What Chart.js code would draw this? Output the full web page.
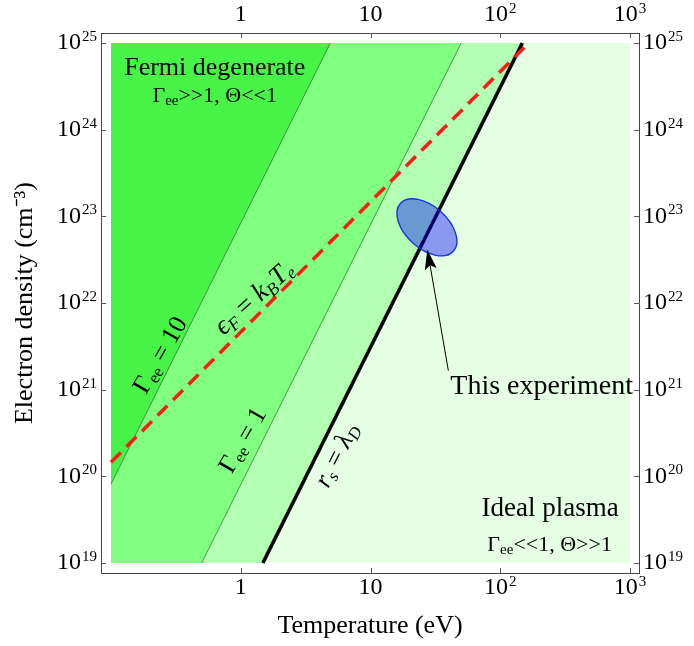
<!DOCTYPE html>
<html lang="en">
<head>
<meta charset="UTF-8">
<title>Plasma regimes</title>
<script src="https://cdn.jsdelivr.net/npm/chart.js"></script>
<style>
  html, body { margin: 0; padding: 0; background: #fff; }
</style>
</head>
<body>
<canvas id="regimeChart" width="694" height="646"></canvas>
<script>
// plotted region (eV, cm^-3)
const tempRange = [0.1, 1000];
const densRange = [1e19, 1e25];

// decade ticks, '^' marks the exponent
const tempTicks = [1, 10, 100, 1000];
const tempTickLabels = ['1', '10', '10^2', '10^3'];
const densTicks = [1e19, 1e20, 1e21, 1e22, 1e23, 1e24, 1e25];
const densTickLabels = ['10^19', '10^20', '10^21', '10^22', '10^23', '10^24', '10^25'];

// regime boundaries, end points (T in eV, n in cm^-3)
const gamma10T = [0.1, 4.9];
const gamma10N = [8.1e19, 1e25];
const gamma1T = [0.5, 50];
const gamma1N = [1e19, 1e25];
const debyeT = [1.48, 148];
const debyeN = [1e19, 1e25];
const fermiT = [0.1, 153];
const fermiN = [1.45e20, 8.9e24];

// measured conditions
const experimentT = 27.2;
const experimentN = 7.46e22;

const serif = "'Liberation Serif', 'Times New Roman', serif";

function pts(ts, ns) {
  return ts.map((t, i) => ({ x: t, y: ns[i] }));
}

// region under a boundary: start at the lower-left corner, run along the floor, then up the boundary
function regionFrom(ts, ns) {
  const p = pts(ts, ns);
  if (ns[0] <= densRange[0]) return [{ x: tempRange[0], y: densRange[0] }].concat(p);
  return p;
}

function logAxis(position, min, max, vals, boxSize, title) {
  return {
    type: 'logarithmic',
    position: position,
    min: min,
    max: max,
    grid: { display: false, drawTicks: false },
    border: { display: true, color: '#444', width: 1 },
    ticks: { display: false, autoSkip: false },
    title: title || { display: false },
    afterBuildTicks: s => { s.ticks = vals.map(v => ({ value: v })); },
    afterFit: s => {
      if (s.isHorizontal()) s.height = boxSize; else s.width = boxSize;
      s.paddingLeft = s.paddingRight = s.paddingTop = s.paddingBottom = 0;
    }
  };
}

// axis limits leave a small white margin round the shaded region
const xMin = 0.0838, xMax = 1172;
const yMin = 7.66e18, yMax = 1.305e25;

// small inward tick marks on all four sides
const innerTicks = {
  id: 'innerTicks',
  afterDraw(chart) {
    const { ctx, chartArea: a } = chart;
    ctx.save();
    ctx.strokeStyle = '#555';
    ctx.lineWidth = 1;
    ctx.beginPath();
    ['x', 'x2'].forEach(id => {
      chart.scales[id].ticks.forEach(t => {
        const px = Math.round(chart.scales[id].getPixelForValue(t.value)) + 0.5;
        if (id === 'x') { ctx.moveTo(px, a.bottom); ctx.lineTo(px, a.bottom - 5); }
        else { ctx.moveTo(px, a.top); ctx.lineTo(px, a.top + 5); }
      });
    });
    ['y', 'y2'].forEach(id => {
      chart.scales[id].ticks.forEach(t => {
        const py = Math.round(chart.scales[id].getPixelForValue(t.value)) + 0.5;
        if (id === 'y') { ctx.moveTo(a.left, py); ctx.lineTo(a.left + 5, py); }
        else { ctx.moveTo(a.right, py); ctx.lineTo(a.right - 5, py); }
      });
    });
    ctx.stroke();
    ctx.restore();
  }
};

// tick numbers with raised exponents
function drawPower(ctx, label, x, y, align) {
  const [base, exp] = label.split('^');
  const bigFont = '24px ' + serif, smallFont = '15px ' + serif;
  ctx.font = bigFont;
  const wb = ctx.measureText(base).width;
  ctx.font = smallFont;
  const we = exp ? ctx.measureText(exp).width + 1 : 0;
  const w = wb + we;
  let left = align === 'right' ? x - w : align === 'left' ? x : x - w / 2;
  ctx.font = bigFont;
  ctx.fillText(base, left, y);
  if (exp) {
    ctx.font = smallFont;
    ctx.fillText(exp, left + wb + 1, y - 6);
  }
}

const tickText = {
  id: 'tickText',
  afterDraw(chart) {
    const { ctx, chartArea: a, scales } = chart;
    ctx.save();
    ctx.fillStyle = '#000';
    ctx.textBaseline = 'middle';
    ctx.textAlign = 'left';
    tempTicks.forEach((v, i) => {
      drawPower(ctx, tempTickLabels[i], scales.x.getPixelForValue(v), a.bottom + 15, 'center');
      drawPower(ctx, tempTickLabels[i], scales.x2.getPixelForValue(v), a.top - 18, 'center');
    });
    densTicks.forEach((v, i) => {
      drawPower(ctx, densTickLabels[i], a.left - 4, scales.y.getPixelForValue(v), 'right');
      drawPower(ctx, densTickLabels[i], a.right + 4, scales.y2.getPixelForValue(v), 'left');
    });
    ctx.restore();
  }
};

// the experiment's error ellipse, drawn over the boundary lines
const experimentSpot = {
  id: 'experimentSpot',
  afterDatasetsDraw(chart, args, opts) {
    const { ctx } = chart;
    const cx = chart.scales.x.getPixelForValue(experimentT);
    const cy = chart.scales.y.getPixelForValue(experimentN);
    ctx.save();
    ctx.beginPath();
    ctx.ellipse(cx, cy, opts.rx, opts.ry, opts.tilt * Math.PI / 180, 0, Math.PI * 2);
    ctx.fillStyle = 'rgba(0, 0, 255, 0.4)';
    ctx.fill();
    ctx.strokeStyle = '#1a2ee8';
    ctx.lineWidth = 1.3;
    ctx.stroke();
    ctx.restore();
  }
};

// rich text: [text, kind] with kind '' | 'sub' | 'i' | 'isub'
function drawRich(ctx, parts, x, y, size, align, angle) {
  ctx.save();
  ctx.translate(x, y);
  ctx.rotate((angle || 0) * Math.PI / 180);
  ctx.textBaseline = 'middle';
  ctx.textAlign = 'left';
  ctx.fillStyle = '#000';
  const fontOf = k => {
    const small = k === 'sub' || k === 'isub';
    const ital = k === 'i' || k === 'isub';
    return (ital ? 'italic ' : '') + Math.round(small ? size * 0.66 : size) + 'px ' + serif;
  };
  let total = 0;
  parts.forEach(p => { ctx.font = fontOf(p[1]); total += ctx.measureText(p[0]).width; });
  let cx = align === 'left' ? 0 : -total / 2;
  parts.forEach(p => {
    ctx.font = fontOf(p[1]);
    const dy = (p[1] === 'sub' || p[1] === 'isub') ? size * 0.24 : 0;
    ctx.fillText(p[0], cx, dy);
    cx += ctx.measureText(p[0]).width;
  });
  ctx.restore();
}

const noteLabels = [
  { at: [0.631, 5.14e24], size: 26, angle: 0, parts: [['Fermi degenerate', '']] },
  { at: [0.63, 2.44e24], size: 22, angle: 0, parts: [['Γ', ''], ['ee', 'sub'], ['>>1, Θ<<1', '']] },
  { at: [242, 4.2e19], size: 27, angle: 0, parts: [['Ideal plasma', '']] },
  { at: [240, 1.61e19], size: 22, angle: 0, parts: [['Γ', ''], ['ee', 'sub'], ['<<1, Θ>>1', '']] },
  { at: [0.2426, 2.47e21], size: 26, angle: -60, parts: [['Γ', ''], ['ee', 'sub'], [' = 10', '']] },
  { at: [1.05, 2.57e20], size: 26, angle: -60, parts: [['Γ', ''], ['ee', 'sub'], [' = 1', '']] },
  { at: [1.28, 1.13e22], size: 27, angle: -42, parts: [['ϵ', 'i'], ['F', 'isub'], [' = ', ''], ['k', 'i'], ['B', 'isub'], ['T', 'i'], ['e', 'isub']] },
  { at: [5.57, 1.73e20], size: 26, angle: -63, parts: [['r', 'i'], ['s', 'isub'], [' = ', ''], ['λ', 'i'], ['D', 'isub']] },
  { at: [41.2, 1.08e21], size: 28, angle: 0, align: 'left', parts: [['This experiment', '']] }
];

// arrow from the caption to the ellipse
const arrowFrom = [39.8, 1.66e21];
const arrowTo = [27.4, 4.15e22];

const notes = {
  id: 'notes',
  afterDatasetsDraw(chart) {
    const { ctx, scales } = chart;
    const px = v => scales.x.getPixelForValue(v);
    const py = v => scales.y.getPixelForValue(v);

    const x0 = px(arrowFrom[0]), y0 = py(arrowFrom[1]);
    const x1 = px(arrowTo[0]), y1 = py(arrowTo[1]);
    const ang = Math.atan2(y1 - y0, x1 - x0);
    const len = 20, half = 6, notch = 4;
    ctx.save();
    ctx.strokeStyle = '#000';
    ctx.fillStyle = '#000';
    ctx.lineWidth = 1;
    ctx.beginPath();
    ctx.moveTo(x0, y0);
    ctx.lineTo(x1 - Math.cos(ang) * (len - notch), y1 - Math.sin(ang) * (len - notch));
    ctx.stroke();
    ctx.translate(x1, y1);
    ctx.rotate(ang);
    ctx.beginPath();
    ctx.moveTo(0, 0);
    ctx.lineTo(-len, -half);
    ctx.lineTo(-len + notch, 0);
    ctx.lineTo(-len, half);
    ctx.closePath();
    ctx.fill();
    ctx.restore();

    noteLabels.forEach(l => drawRich(ctx, l.parts, px(l.at[0]), py(l.at[1]), l.size, l.align, l.angle));
  }
};

const ctx = document.getElementById('regimeChart').getContext('2d');
new Chart(ctx, {
  type: 'line',
  data: {
    datasets: [
      { label: 'ϵF = kBTe', data: pts(fermiT, fermiN), borderColor: '#ff1a1a', borderWidth: 3.5, borderDash: [14, 8], fill: false },
      { label: 'rs = λD', data: pts(debyeT, debyeN), borderColor: '#000', borderWidth: 3.6, fill: false },
      { label: 'Γee = 1', data: pts(gamma1T, gamma1N), borderColor: 'rgba(40, 100, 40, 0.85)', borderWidth: 0.8, fill: false },
      { label: 'Γee = 10', data: pts(gamma10T, gamma10N), borderColor: 'rgba(40, 100, 40, 0.85)', borderWidth: 0.8, fill: false },
      { label: 'strongly coupled', data: regionFrom(gamma10T, gamma10N), borderWidth: 0, borderColor: 'transparent', backgroundColor: '#46f346', fill: { value: densRange[1] } },
      { label: 'coupled', data: regionFrom(gamma1T, gamma1N), borderWidth: 0, borderColor: 'transparent', backgroundColor: '#80ff80', fill: { value: densRange[1] } },
      { label: 'weakly coupled', data: regionFrom(debyeT, debyeN), borderWidth: 0, borderColor: 'transparent', backgroundColor: '#b3ffb3', fill: { value: densRange[1] } },
      { label: 'ideal', data: pts(tempRange, [densRange[0], densRange[0]]), borderWidth: 0, borderColor: 'transparent', backgroundColor: '#e5ffe5', fill: { value: densRange[1] } }
    ]
  },
  options: {
    responsive: false,
    animation: false,
    devicePixelRatio: 1,
    layout: { padding: 0 },
    elements: { point: { radius: 0, hoverRadius: 0 }, line: { tension: 0, borderCapStyle: 'butt' } },
    plugins: {
      legend: { display: false },
      tooltip: { enabled: false },
      experimentSpot: { rx: 35.7, ry: 21, tilt: 42 }
    },
    events: [],
    scales: {
      x: logAxis('bottom', xMin, xMax, tempTicks, 73, {
        display: true, text: 'Temperature (eV)', color: '#000',
        font: { family: serif, size: 26 }, padding: { top: 0, bottom: 4 }
      }),
      x2: logAxis('top', xMin, xMax, tempTicks, 33),
      y: logAxis('left', yMin, yMax, densTicks, 101, {
        display: true, text: 'Electron density (cm⁻³)', color: '#000',
        font: { family: serif, size: 26 }, padding: { top: 10, bottom: 0 }
      }),
      y2: logAxis('right', yMin, yMax, densTicks, 55)
    }
  },
  plugins: [experimentSpot, notes, innerTicks, tickText]
});
</script>
</body>
</html>
